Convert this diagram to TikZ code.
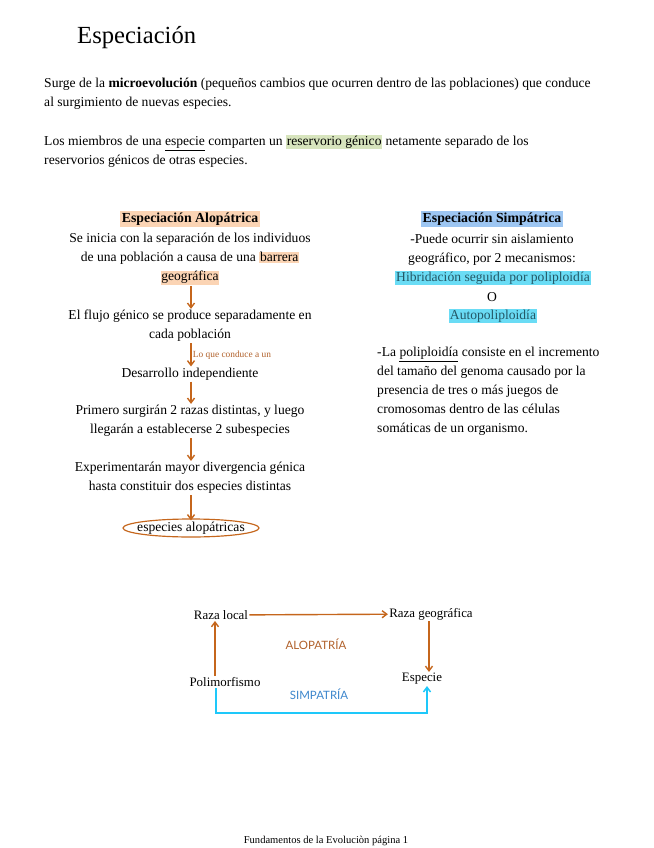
\documentclass[tikz,border=0pt]{standalone}
\usepackage{fontspec}
\setmainfont{Liberation Serif}
\newfontfamily\handfont{Lato}
\usepackage{xcolor}
\usetikzlibrary{arrows.meta,shapes.geometric,positioning,calc}

\definecolor{peach}{HTML}{FBD4B4}
\definecolor{lblue}{HTML}{9DC6F2}
\definecolor{cyanhl}{HTML}{6ADCF5}
\definecolor{greenhl}{HTML}{D7E4BD}
\definecolor{tealtxt}{HTML}{245866}
\definecolor{arrorange}{HTML}{C5661C}
\definecolor{alobrown}{HTML}{B0602A}
\definecolor{simblue}{HTML}{3C86CC}
\definecolor{arrcyan}{HTML}{1EC8FA}

\newcommand{\hlp}[1]{{\setlength{\fboxsep}{0.6pt}\colorbox{peach}{#1}}}
\newcommand{\hlg}[1]{{\setlength{\fboxsep}{0.6pt}\colorbox{greenhl}{#1}}}

\tikzset{
  txt/.style={inner sep=1pt, align=center, font=\fontsize{11.6}{16.2}\selectfont},
  para/.style={inner sep=0pt, align=left, anchor=north west, font=\fontsize{11.6}{16.2}\selectfont},
  head/.style={inner sep=1.5pt, font=\fontsize{11.8}{13}\selectfont\bfseries},
  oarrow/.style={-{Straight Barb[length=4pt,width=6pt]}, draw=arrorange, line width=1.2pt},
  carrow/.style={-{Straight Barb[length=4pt,width=6pt]}, draw=arrcyan, line width=1.3pt},
  word/.style={inner sep=1pt, font=\fontsize{11}{13}\selectfont}
}

\begin{document}
\begin{tikzpicture}[x={(0.03cm,0)}, y={(0,-0.03cm)}]
\useasboundingbox (0,0) rectangle (654,848);

% Title and intro
\node[anchor=west, inner sep=0pt, font=\fontsize{21}{24}\selectfont] (title) at (77,38) {Especiación};
\node[para] (intro1) at (44,78) {Surge de la \textbf{microevolución} (pequeños cambios que ocurren dentro de las poblaciones) que conduce\\al surgimiento de nuevas especies.};
\node[para] (intro2) at (44,135) {Los miembros de una \underline{especie} comparten un \hlg{reservorio génico} netamente separado de los\\reservorios génicos de otras especies.};

% Alopatrica
\node[head, fill=peach] (alohead) at (190,219) {Especiación Alopátrica};
\node[txt] (alo1) at (190,259) {Se inicia con la separación de los individuos\\de una población a causa de una \hlp{barrera}\\\hlp{geográfica}};
\node[txt] (alo2) at (190,326) {El flujo génico se produce separadamente en\\cada población};
\node[txt] (alo3) at (190,374) {Desarrollo independiente};
\node[txt] (alo4) at (190,421) {Primero surgirán 2 razas distintas, y luego\\llegarán a establecerse 2 subespecies};
\node[txt] (alo5) at (190,478) {Experimentarán mayor divergencia génica\\hasta constituir dos especies distintas};
\node[txt] (alo6) at (191,528) {especies alopátricas};
\draw[arrorange, line width=1pt] (alo6.center) ellipse [x radius=68*0.03cm, y radius=9*0.03cm];

\draw[oarrow] (alo1.south -| 191,0) -- (alo2.north -| 191,0);
\draw[oarrow] (alo2.south -| 191,0) -- node[right, inner sep=1pt, text=alobrown, font=\fontsize{8}{9}\selectfont] {Lo que conduce a un} (alo3.north -| 191,0);
\draw[oarrow] (alo3.south -| 191,0) -- (alo4.north -| 191,0);
\draw[oarrow] (alo4.south -| 191,0) -- (alo5.north -| 191,0);
\draw[oarrow] (alo5.south -| 191,0) -- (alo6.north);

% Simpatrica
\node[head, fill=lblue] (simhead) at (492,219) {Especiación Simpátrica};
\node[txt] (sim1) at (492,249.5) {-Puede ocurrir sin aislamiento\\geográfico, por 2 mecanismos:};
\node[txt, fill=cyanhl, text=tealtxt] (hibrid) at (493,278) {Hibridación seguida por poliploidía};
\node[txt] (simo) at (492,297) {O};
\node[txt, fill=cyanhl, text=tealtxt] (autop) at (493,316) {Autopoliploidía};
\node[para] (polip) at (377,347) {-La \underline{poliploidía} consiste en el incremento\\del tamaño del genoma causado por la\\presencia de tres o más juegos de\\cromosomas dentro de las células\\somáticas de un organismo.};

% Ciclo de especiacion
\node[word] (rlocal) at (221,615) {Raza local};
\node[word] (rgeo) at (431,614) {Raza geográfica};
\node[word] (polim) at (225,682) {Polimorfismo};
\node[word] (espec) at (422,679) {Especie};
\node[text=alobrown, font=\handfont\fontsize{9.8}{11}\selectfont] (alolab) at (316,644) {ALOPATRÍA};
\node[text=simblue, font=\handfont\fontsize{9.8}{11}\selectfont] (simlab) at (319,694) {SIMPATRÍA};
\coordinate (sbase) at (216,713);

\draw[oarrow] (rlocal) -- (rgeo);
\draw[oarrow] (rgeo.south -| 429,0) -- (espec.north -| 429,0);
\draw[oarrow] (polim.north -| 215,0) -- (rlocal.south -| 215,0);
\draw[carrow] (polim.south -| sbase) -- (sbase) -| ($(espec.south)+(5,0)$);

% Pie de pagina
\node[font=\fontsize{9}{10}\selectfont] (footer) at (326,841) {Fundamentos de la Evoluciòn página 1};
\end{tikzpicture}
\end{document}
